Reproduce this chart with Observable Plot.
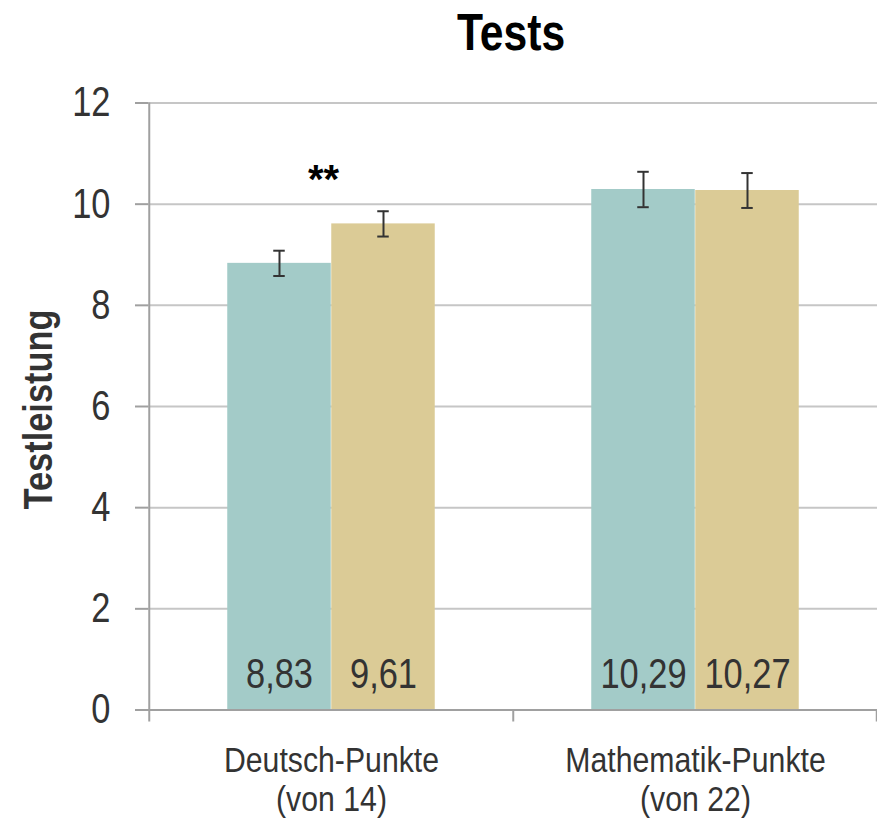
<!DOCTYPE html>
<html>
<head>
<meta charset="utf-8">
<script src="https://cdn.jsdelivr.net/npm/d3@7"></script>
<script src="https://cdn.jsdelivr.net/npm/@observablehq/plot@0.6"></script>
<style>
  html, body { margin: 0; padding: 0; background: #fff; }
</style>
</head>
<body>
<div id="chart"></div>
<script>
// ---- data ----
const title = "Tests";
const yLabel = "Testleistung";
const categories = ["Deutsch", "Mathematik"];
const categoryLabels = ["Deutsch-Punkte\n(von 14)", "Mathematik-Punkte\n(von 22)"];
const seriesNames = ["Gruppe A", "Gruppe B"];
const meansA = [8.83, 10.29];
const meansB = [9.61, 10.27];
const errA = [0.25, 0.35];
const errB = [0.25, 0.345];
const significance = ["**", ""];
const yTicks = [0, 2, 4, 6, 8, 10, 12];
const seriesColors = ["#a3cbc8", "#dbcb96"];

// ---- layout ----
const W = 877, H = 818;
const mL = 148, mR = 0, mT = 102.5, mB = 108.5;
const bw = (W - mL - mR) / categories.length;   // band width
const barW = 104;
const outer = (bw - 2 * barW) / 2;
const capW = 12;
// horizontal condensing per font size, to mimic a narrow typeface
const narrowBySize = {"42": 0.82, "36": 0.84, "40": 0.86, "52": 0.82};
const font = "'Liberation Sans', Arial, sans-serif";
const fmt = d3.formatLocale({decimal: ",", thousands: ".", grouping: [3], currency: ["", "€"]}).format(".2f");

const rows = [];
categories.forEach((c, i) => {
  rows.push({test: c, series: seriesNames[0], value: meansA[i], err: errA[i], k: 0});
  rows.push({test: c, series: seriesNames[1], value: meansB[i], err: errB[i], k: 1});
});
const sigRows = categories.map((c, i) => ({
  test: c, label: significance[i],
  top: d3.max(rows.filter(r => r.test === c), r => r.value + r.err)
})).filter(d => d.label);

const seriesMarks = seriesNames.flatMap((s, k) => {
  const data = rows.filter(r => r.k === k);
  const barLeft = outer + k * barW;
  const offset = barLeft + barW / 2 - bw / 2;
  const capInL = barLeft + barW / 2 - capW / 2;
  const capInR = bw - barLeft - barW / 2 - capW / 2;
  return [
    Plot.barY(data, {x: "test", y: "value", fill: seriesColors[k],
      insetLeft: barLeft, insetRight: bw - barLeft - barW}),
    Plot.ruleX(data, {x: "test", y1: d => d.value - d.err, y2: d => d.value + d.err,
      dx: offset, stroke: "#333", strokeWidth: 2}),
    Plot.tickY(data, {x: "test", y: d => d.value - d.err, stroke: "#333", strokeWidth: 2,
      insetLeft: capInL, insetRight: capInR}),
    Plot.tickY(data, {x: "test", y: d => d.value + d.err, stroke: "#333", strokeWidth: 2,
      insetLeft: capInL, insetRight: capInR}),
    Plot.text(data, {x: "test", frameAnchor: "bottom", text: d => fmt(d.value),
      dx: offset, dy: -35, lineAnchor: "middle", fontSize: 42, fill: "#333"})
  ];
});

const chart = Plot.plot({
  width: W, height: H,
  marginLeft: mL, marginRight: mR, marginTop: mT, marginBottom: mB,
  style: {fontFamily: font, background: "#fff", overflow: "visible"},
  x: {type: "band", domain: categories, padding: 0, axis: null},
  y: {domain: [0, 12], axis: null},
  marks: [
    Plot.gridY(yTicks.filter(d => d > 0), {stroke: "#c6c6c6", strokeOpacity: 1, strokeWidth: 2}),
    ...seriesMarks,
    Plot.ruleY([0], {stroke: "#a0a0a0", strokeWidth: 2}),
    // y axis line (left edge of first band, extending below baseline)
    Plot.ruleX(categories.slice(0, 1), {x: d => d, dx: -bw / 2, stroke: "#a0a0a0", strokeWidth: 2, insetBottom: -12}),
    // x axis boundary ticks
    Plot.ruleX(categories.slice(1), {x: d => d, dx: -bw / 2, stroke: "#a0a0a0", strokeWidth: 2,
      insetTop: H - mT - mB, insetBottom: -12}),
    Plot.ruleX(categories.slice(-1), {x: d => d, dx: bw / 2 - 1, stroke: "#a0a0a0", strokeWidth: 2,
      insetTop: H - mT - mB, insetBottom: -12}),
    // y axis ticks and labels
    Plot.axisY(yTicks, {tickSize: 13, tickFormat: () => "", stroke: "#a0a0a0", strokeWidth: 2, label: null}),
    Plot.axisY(yTicks, {tickSize: 0, tickPadding: 38, tickFormat: d => String(d), fontSize: 42, fill: "#333", label: null}),
    // category labels
    Plot.text(categories, {x: d => d, text: (d, i) => categoryLabels[i], frameAnchor: "bottom",
      lineAnchor: "top", dy: 33.5, lineHeight: 1.1, fontSize: 36, fill: "#333"}),
    // significance
    Plot.text(sigRows, {x: "test", y: "top", text: "label", lineAnchor: "top", dy: -47, dx: -8,
      fontSize: 40, fontWeight: "bold", fill: "#000"}),
    // y label
    Plot.text([yLabel], {frameAnchor: "left", textAnchor: "middle", rotate: -90, dx: -109, dy: 3,
      lineAnchor: "middle", fontSize: 40, fontWeight: "bold", fill: "#333"}),
    // title
    Plot.text([title], {frameAnchor: "top", dx: -2, dy: -89.8, lineAnchor: "top",
      fontSize: 52, fontWeight: "bold", fill: "#000"})
  ]
});

// condense text horizontally around each text's own anchor (narrow typeface look)
d3.select(chart).selectAll("text").each(function () {
  if (this.textContent.trim() === "**") return;
  const holder = this.closest("[font-size]");
  const fs = holder ? String(parseFloat(holder.getAttribute("font-size"))) : "42";
  const s = narrowBySize[fs] || 0.82;
  const t = this.getAttribute("transform");
  if (t) {
    this.setAttribute("transform", t + ` scale(${s},1)`);
  } else {
    const x = +(this.getAttribute("x") || 0), y = +(this.getAttribute("y") || 0);
    this.setAttribute("transform", `translate(${x},${y}) scale(${s},1) translate(${-x},${-y})`);
  }
});

document.getElementById("chart").appendChild(chart);
</script>
</body>
</html>
